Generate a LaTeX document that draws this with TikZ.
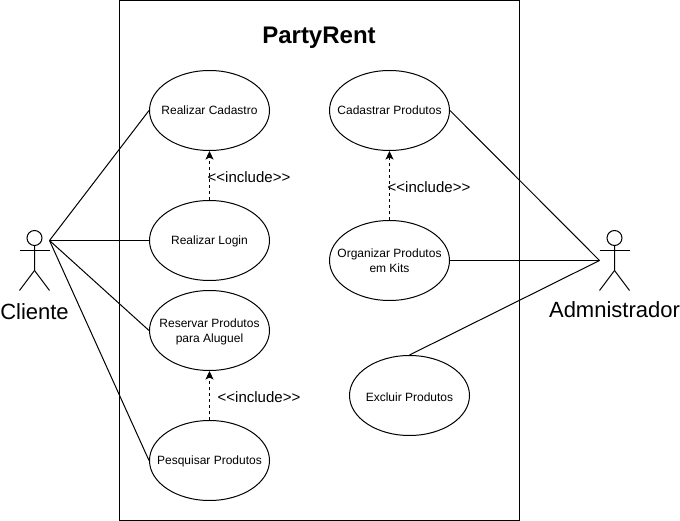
\documentclass[tikz,border=0pt]{standalone}
\usepackage{fontspec}
\setmainfont{Liberation Sans}
\usetikzlibrary{shapes.geometric,arrows.meta}
\tikzset{
	usecase/.style={ellipse,draw,line width=1pt,minimum width=120pt,minimum height=80pt,inner xsep=-25pt,inner ysep=0pt,text depth=0pt,align=center,font=\fontsize{12}{15}\selectfont},
	assoc/.style={line width=1pt},
	includes/.style={line width=1pt,dash pattern=on 3pt off 3pt,-{Stealth[length=8.5pt,width=8pt,inset=2pt]}},
	includelabel/.style={font=\fontsize{15}{17}\selectfont,inner sep=0pt},
	actorlabel/.style={font=\fontsize{22}{26}\selectfont,inner sep=0pt}
}
\begin{document}
\begin{tikzpicture}[x=1pt,y=-1pt]
		\useasboundingbox (0,0) rectangle (680,521);
		
		%system
		\draw[line width=1pt] (119.5,0.5) rectangle (519.5,520.5);
		\node[font=\fontsize{24}{28}\selectfont\bfseries,inner sep=0pt](title) at (319,38) {PartyRent};
		
		%use cases
		\node[usecase](cadastro) at (209.5,110.5) {Realizar Cadastro};
		\node[usecase](login) at (209.5,240.5) {Realizar Login};
		\node[usecase](reservar) at (209.5,330.5) {Reservar Produtos\\para Aluguel};
		\node[usecase](pesquisar) at (209.5,460.5) {Pesquisar Produtos};
		\node[usecase](cadprod) at (389.5,110.5) {Cadastrar Produtos};
		\node[usecase](organizar) at (389.5,260.5) {Organizar Produtos\\em Kits};
		\node[usecase,text height=12pt](excluir) at (409.5,395.5) {Excluir Produtos};
		
		%actors
		\node[circle,draw,line width=1pt,minimum size=15pt,inner sep=0pt](clientehead) at (34.5,238) {};
		\draw[assoc] (clientehead.south) -- (34.5,270.5) -- (19.5,290.5);
		\draw[assoc] (34.5,270.5) -- (49.5,290.5);
		\draw[assoc] (19.5,250.5) -- (49.5,250.5);
		\coordinate (cliente) at (49.5,240.5);
		\node[actorlabel](clientelabel) at (34.5,312) {Cliente};
		
		\node[circle,draw,line width=1pt,minimum size=15pt,inner sep=0pt](adminhead) at (614.5,238) {};
		\draw[assoc] (adminhead.south) -- (614.5,270.5) -- (599.5,290.5);
		\draw[assoc] (614.5,270.5) -- (629.5,290.5);
		\draw[assoc] (599.5,250.5) -- (629.5,250.5);
		\coordinate (admin) at (599.5,260.5);
		\node[actorlabel](adminlabel) at (614.5,310) {Admnistrador};
		
		%associations
		\draw[assoc] (cliente) -- (cadastro.west);
		\draw[assoc] (cliente) -- (login.west);
		\draw[assoc] (cliente) -- (reservar.west);
		\draw[assoc] (cliente) -- (pesquisar.west);
		\draw[assoc] (admin) -- (cadprod.east);
		\draw[assoc] (admin) -- (organizar.east);
		\draw[assoc] (admin) -- (excluir.north);
		
		%includes
		\draw[includes] (login.north) -- (cadastro.south);
		\draw[includes] (pesquisar.north) -- (reservar.south);
		\draw[includes] (organizar.north) -- (cadprod.south);
		\node[includelabel](includeone) at (249,177) {{<}{<}include{>}{>}};
		\node[includelabel](includetwo) at (259,397) {{<}{<}include{>}{>}};
		\node[includelabel](includethree) at (429,187) {{<}{<}include{>}{>}};
\end{tikzpicture}
\end{document}
